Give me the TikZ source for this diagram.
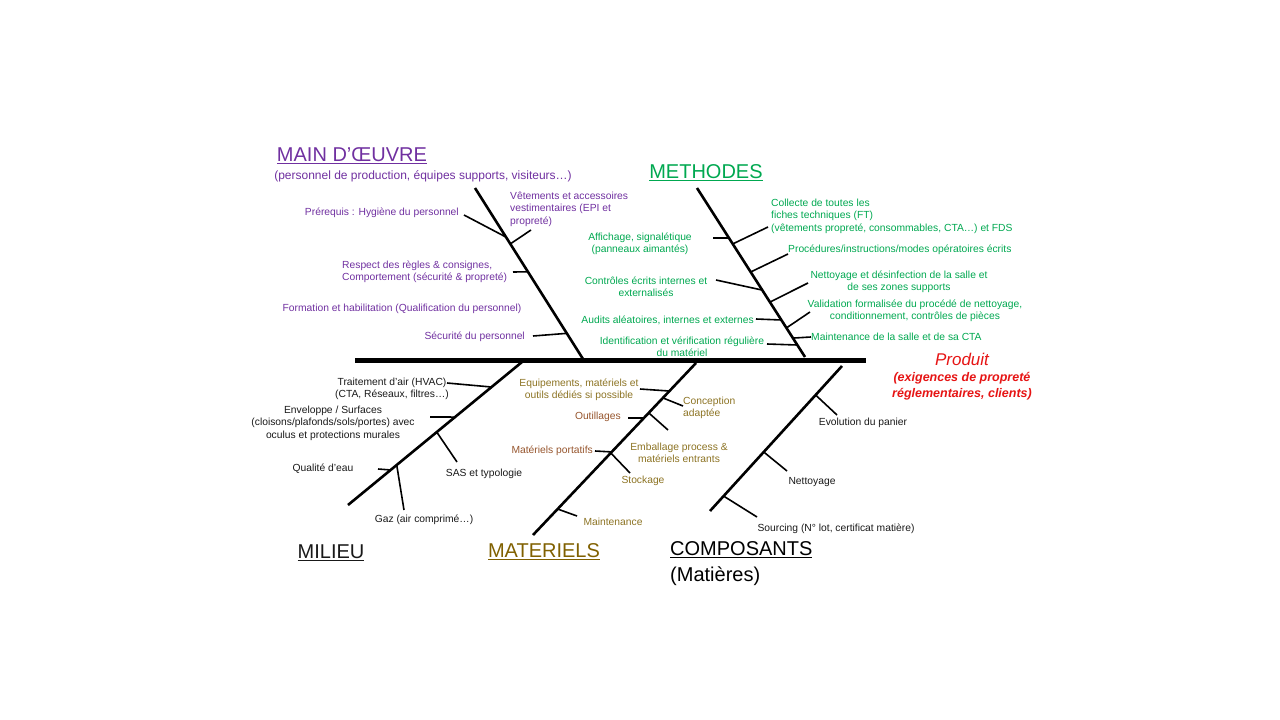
\documentclass[tikz,border=0pt]{standalone}
\usepackage{fontspec}
\setmainfont{Liberation Sans}
\usepackage{xcolor}
\usepackage{tikz}
\usetikzlibrary{positioning,calc}
\definecolor{fishpurple}{RGB}{112,48,160}
\definecolor{fishgreen}{RGB}{0,168,80}
\definecolor{fisholive}{RGB}{128,96,0}
\definecolor{fishgold}{RGB}{140,115,35}
\definecolor{fishbrown}{RGB}{150,85,45}
\definecolor{fishred}{RGB}{230,20,20}
\definecolor{fishink}{RGB}{25,25,25}

\begin{document}
\begin{tikzpicture}[x=1pt,y=-1pt,
  spine/.style={line width=5pt},
  bone/.style={line width=2.6pt},
  twig/.style={line width=1.6pt},
  lbl/.style={inner sep=0pt,font=\fontsize{10.3}{12.5}\selectfont,align=center},
  cat/.style={inner sep=0pt,font=\fontsize{20}{24}\selectfont}]
\useasboundingbox (0,0) rectangle (1280,720);

% main spine
\coordinate (spineL) at (355,360);
\coordinate (spineR) at (866,360);
\draw[spine] (spineL) -- (spineR);

% main d'oeuvre
\coordinate (moTop) at (475,188);
\coordinate (moBot) at (583,359);
\draw[bone] (moTop) -- (moBot);
\node[cat,text=fishpurple] (moTitle) at (352,156) {\underline{MAIN D’ŒUVRE}};
\node[lbl,text=fishpurple,font=\fontsize{12}{14}\selectfont] (moSub) at (423,176) {(personnel de production, équipes supports, visiteurs…)};
\node[lbl,text=fishpurple,anchor=east] (moPre) at (459,213) {Prérequis : Hygiène du personnel};
\node[lbl,text=fishpurple,anchor=west,align=left] (moVet) at (510,209) {Vêtements et accessoires\\vestimentaires (EPI et\\propreté)};
\node[lbl,text=fishpurple,anchor=west,align=left] (moResp) at (342,272) {Respect des règles \& consignes,\\Comportement (sécurité \& propreté)};
\node[lbl,text=fishpurple] (moForm) at (402,309) {Formation et habilitation (Qualification du personnel)};
\node[lbl,text=fishpurple,anchor=east] (moSec) at (525,337) {Sécurité du personnel};
\coordinate (moPreE) at (464,215);
\coordinate (moVetE) at (531,230);
\coordinate (moRespE) at (513,272);
\coordinate (moSecE) at (533,336);
\draw[twig] (moPreE) -- ($(moTop)!0.287!(moBot)$);
\draw[twig] (moVetE) -- ($(moTop)!0.327!(moBot)$);
\draw[twig] (moRespE) -- ($(moTop)!0.49!(moBot)$);
\draw[twig] (moSecE) -- ($(moTop)!0.85!(moBot)$);

% methodes
\coordinate (meTop) at (697,188);
\coordinate (meBot) at (805,357);
\draw[bone] (meTop) -- (meBot);
\node[cat,text=fishgreen] (meTitle) at (706,173) {\underline{METHODES}};
\node[lbl,text=fishgreen,anchor=west,align=left] (meColl) at (771,216) {Collecte de toutes les\\fiches techniques (FT)\\(vêtements propreté, consommables, CTA…) et FDS};
\node[lbl,text=fishgreen] (meAff) at (640,244) {Affichage, signalétique\\(panneaux aimantés)};
\node[lbl,text=fishgreen,anchor=west] (meProc) at (788,250) {Procédures/instructions/modes opératoires écrits};
\node[lbl,text=fishgreen] (meCtrl) at (646,287) {Contrôles écrits internes et\\externalisés};
\node[lbl,text=fishgreen] (meNett) at (899,282) {Nettoyage et désinfection de la salle et\\de ses zones supports};
\node[lbl,text=fishgreen] (meVal) at (915,311) {Validation formalisée du procédé de nettoyage,\\conditionnement, contrôles de pièces};
\node[lbl,text=fishgreen,anchor=east] (meAud) at (754,320) {Audits aléatoires, internes et externes};
\node[lbl,text=fishgreen,anchor=west] (meMaint) at (811,337) {Maintenance de la salle et de sa CTA};
\node[lbl,text=fishgreen] (meIdent) at (682,347) {Identification et vérification régulière\\du matériel};
\coordinate (meAffE) at (713,238);
\coordinate (meCollE) at (768,227);
\coordinate (meProcE) at (788,254);
\coordinate (meCtrlE) at (716,280);
\coordinate (meNettE) at (808,283);
\coordinate (meAudE) at (756,319);
\coordinate (meValE) at (810,312);
\coordinate (meMaintE) at (811,337);
\coordinate (meIdentE) at (767,344);
\draw[twig] (meAffE) -- ($(meTop)!0.296!(meBot)$);
\draw[twig] (meCollE) -- ($(meTop)!0.331!(meBot)$);
\draw[twig] (meProcE) -- ($(meTop)!0.497!(meBot)$);
\draw[twig] (meCtrlE) -- ($(meTop)!0.604!(meBot)$);
\draw[twig] (meNettE) -- ($(meTop)!0.675!(meBot)$);
\draw[twig] (meAudE) -- ($(meTop)!0.781!(meBot)$);
\draw[twig] (meValE) -- ($(meTop)!0.828!(meBot)$);
\draw[twig] (meMaintE) -- ($(meTop)!0.888!(meBot)$);
\draw[twig] (meIdentE) -- ($(meTop)!0.929!(meBot)$);

% produit
\node[inner sep=0pt,text=fishred,font=\fontsize{17}{20}\selectfont\itshape] (prod) at (962,359) {Produit};
\node[lbl,text=fishred,font=\fontsize{12.5}{16}\selectfont\bfseries\itshape] (prodSub) at (962,386) {(exigences de propreté\\réglementaires, clients)};

% milieu
\coordinate (miTop) at (522,362);
\coordinate (miBot) at (348,505);
\draw[bone] (miTop) -- (miBot);
\node[cat,text=fishink] (miTitle) at (331,553) {\underline{MILIEU}};
\node[lbl,text=fishink] (miAir) at (392,389) {Traitement d’air (HVAC)\\(CTA, Réseaux, filtres…)};
\node[lbl,text=fishink] (miEnv) at (333,423) {Enveloppe / Surfaces\\(cloisons/plafonds/sols/portes) avec\\oculus et protections murales};
\node[lbl,text=fishink] (miSas) at (484,474) {SAS et typologie};
\node[lbl,text=fishink] (miEau) at (323,469) {Qualité d’eau};
\node[lbl,text=fishink] (miGaz) at (424,520) {Gaz (air comprimé…)};
\coordinate (miAirE) at (447,383);
\coordinate (miEnvE) at (430,417);
\coordinate (miSasE) at (457,462);
\coordinate (miEauE) at (378,469);
\coordinate (miGazE) at (404,510);
\draw[twig] (miAirE) -- ($(miTop)!0.175!(miBot)$);
\draw[twig] (miEnvE) -- ($(miTop)!0.385!(miBot)$);
\draw[twig] (miSasE) -- ($(miTop)!0.49!(miBot)$);
\draw[twig] (miEauE) -- ($(miTop)!0.755!(miBot)$);
\draw[twig] (miGazE) -- ($(miTop)!0.72!(miBot)$);

% materiels
\coordinate (maTop) at (696,363);
\coordinate (maBot) at (533,535);
\draw[bone] (maTop) -- (maBot);
\node[cat,text=fisholive] (maTitle) at (544,552) {\underline{MATERIELS}};
\node[lbl,text=fishgold] (maEquip) at (579,390) {Equipements, matériels et\\outils dédiés si possible};
\node[lbl,text=fishgold,anchor=west,align=left] (maConc) at (683,408) {Conception\\adaptée};
\node[lbl,text=fishbrown,anchor=east] (maOut) at (621,417) {Outillages};
\node[lbl,text=fishgold] (maEmb) at (679,453) {Emballage process \&\\matériels entrants};
\node[lbl,text=fishbrown,anchor=east] (maPort) at (593,451) {Matériels portatifs};
\node[lbl,text=fishgold] (maStock) at (643,481) {Stockage};
\node[lbl,text=fishgold] (maMaint) at (613,522) {Maintenance};
\coordinate (maEquipE) at (640,389);
\coordinate (maConcE) at (683,406);
\coordinate (maOutE) at (628,418);
\coordinate (maEmbE) at (668,430);
\coordinate (maPortE) at (595,451);
\coordinate (maStockE) at (630,473);
\coordinate (maMaintE) at (577,516);
\draw[twig] (maEquipE) -- ($(maTop)!0.163!(maBot)$);
\draw[twig] (maConcE) -- ($(maTop)!0.203!(maBot)$);
\draw[twig] (maOutE) -- ($(maTop)!0.32!(maBot)$);
\draw[twig] (maEmbE) -- ($(maTop)!0.29!(maBot)$);
\draw[twig] (maPortE) -- ($(maTop)!0.517!(maBot)$);
\draw[twig] (maStockE) -- ($(maTop)!0.523!(maBot)$);
\draw[twig] (maMaintE) -- ($(maTop)!0.849!(maBot)$);

% composants
\coordinate (coTop) at (842,366);
\coordinate (coBot) at (710,511);
\draw[bone] (coTop) -- (coBot);
\node[cat,text=black,anchor=west] (coTitle) at (670,550) {\underline{COMPOSANTS}};
\node[cat,text=black,anchor=west] (coSub) at (670,576) {(Matières)};
\node[lbl,text=fishink] (coPan) at (863,423) {Evolution du panier};
\node[lbl,text=fishink] (coNett) at (812,482) {Nettoyage};
\node[lbl,text=fishink] (coSrc) at (836,529) {Sourcing (N° lot, certificat matière)};
\coordinate (coPanE) at (837,415);
\coordinate (coNettE) at (787,471);
\coordinate (coSrcE) at (757,517);
\draw[twig] (coPanE) -- ($(coTop)!0.2!(coBot)$);
\draw[twig] (coNettE) -- ($(coTop)!0.593!(coBot)$);
\draw[twig] (coSrcE) -- ($(coTop)!0.897!(coBot)$);
\end{tikzpicture}
\end{document}
